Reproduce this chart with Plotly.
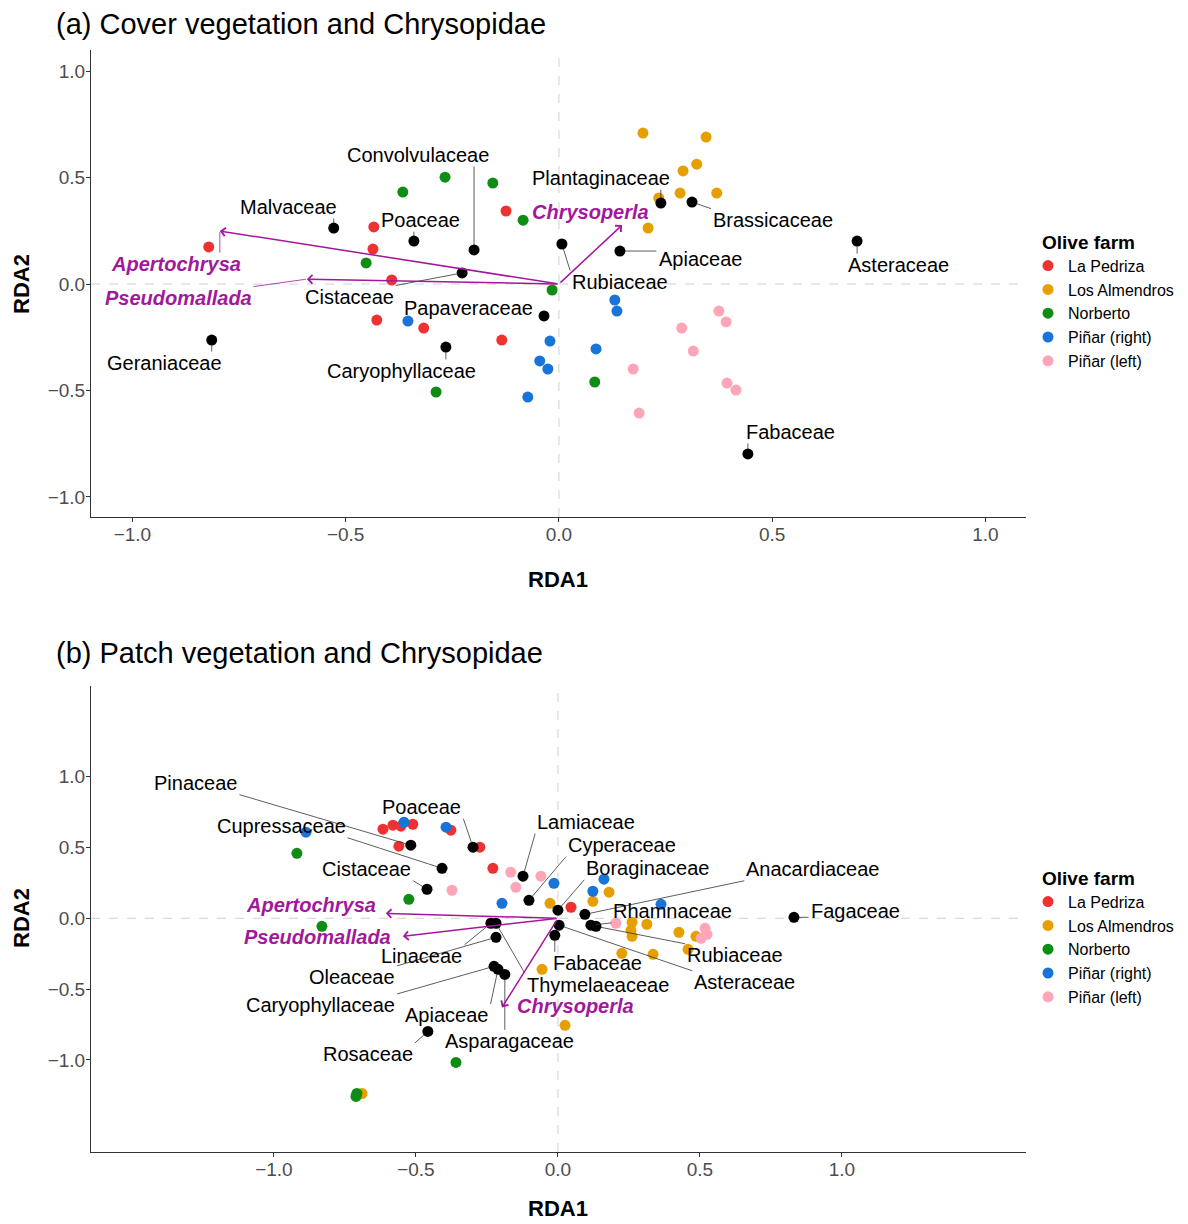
import math
import plotly.graph_objects as go

FONT = "Liberation Sans, Arial, sans-serif"
PURPLE = "#A2189C"

farms = ["La Pedriza", "Los Almendros", "Norberto", "Piñar (right)", "Piñar (left)"]
farm_colors = ["#EE3131", "#E69F00", "#0F8C14", "#1874D6", "#FFA5B8"]

# ---------------- Panel (a): cover vegetation ----------------
a_pedriza_x = [-0.821, -0.434, -0.436, -0.392, -0.427, -0.317, -0.124, -0.134]
a_pedriza_y = [0.174, 0.268, 0.164, 0.019, -0.169, -0.207, 0.343, -0.263]
a_almendros_x = [0.197, 0.345, 0.323, 0.291, 0.234, 0.284, 0.370, 0.209]
a_almendros_y = [0.709, 0.690, 0.563, 0.531, 0.404, 0.427, 0.427, 0.263]
a_norberto_x = [-0.267, -0.155, -0.366, -0.084, -0.452, -0.016, -0.288, 0.084]
a_norberto_y = [0.502, 0.474, 0.432, 0.300, 0.099, -0.028, -0.507, -0.460]
a_pinar_r_x = [-0.354, -0.021, -0.045, -0.026, -0.073, 0.131, 0.136, 0.087]
a_pinar_r_y = [-0.174, -0.268, -0.361, -0.399, -0.531, -0.075, -0.127, -0.305]
a_pinar_l_x = [0.375, 0.392, 0.288, 0.315, 0.174, 0.394, 0.415, 0.188]
a_pinar_l_y = [-0.127, -0.178, -0.207, -0.315, -0.399, -0.465, -0.498, -0.606]

a_family = ["Malvaceae", "Poaceae", "Convolvulaceae", "Cistaceae", "Papaveraceae",
            "Caryophyllaceae", "Geraniaceae", "Rubiaceae", "Plantaginaceae",
            "Brassicaceae", "Apiaceae", "Asteraceae", "Fabaceae"]
a_family_x = [-0.528, -0.340, -0.199, -0.227, -0.035, -0.265, -0.814, 0.007, 0.239,
              0.312, 0.143, 0.699, 0.443]
a_family_y = [0.263, 0.202, 0.160, 0.052, -0.150, -0.296, -0.263, 0.188, 0.380,
              0.385, 0.155, 0.202, -0.798]

a_species = ["Apertochrysa", "Pseudomallada", "Chrysoperla"]
a_species_x = [-0.795, -0.591, 0.148]
a_species_y = [0.249, 0.023, 0.277]

# ---------------- Panel (b): patch vegetation ----------------
b_pedriza_x = [-0.616, -0.581, -0.553, -0.511, -0.560, -0.377, -0.275, -0.229, 0.046]
b_pedriza_y = [0.629, 0.657, 0.650, 0.664, 0.509, 0.622, 0.502, 0.353, 0.078]
b_almendros_x = [-0.028, 0.123, 0.180, 0.261, 0.257, 0.261, 0.313, 0.426, 0.486,
                 0.458, 0.225, 0.335, -0.056, 0.025, -0.690]
b_almendros_y = [0.106, 0.120, 0.184, -0.028, -0.085, -0.127, -0.042, -0.099, -0.127,
                 -0.219, -0.247, -0.254, -0.360, -0.756, -1.237]
b_norberto_x = [-0.919, -0.525, -0.831, -0.359, -0.708, -0.711]
b_norberto_y = [0.459, 0.134, -0.057, -1.018, -1.237, -1.258]
b_pinar_r_x = [-0.542, -0.394, -0.887, -0.197, -0.014, 0.162, 0.123, 0.363]
b_pinar_r_y = [0.678, 0.643, 0.608, 0.106, 0.247, 0.276, 0.191, 0.099]
b_pinar_l_x = [-0.166, -0.148, -0.373, -0.060, 0.204, 0.518, 0.525, 0.504]
b_pinar_l_y = [0.325, 0.219, 0.198, 0.297, -0.035, -0.071, -0.113, -0.141]

b_family = ["Pinaceae", "Poaceae", "Cupressaceae", "Cistaceae", "Lamiaceae",
            "Cyperaceae", "Boraginaceae", "Anacardiaceae", "Rhamnaceae", "Rubiaceae",
            "Fagaceae", "Asteraceae", "Fabaceae", "Linaceae", "Thymelaeaceae",
            "Oleaceae", "Caryophyllaceae", "Apiaceae", "Asparagaceae", "Rosaceae"]
b_family_x = [-0.518, -0.299, -0.408, -0.461, -0.123, -0.102, 0.000, 0.095, 0.116,
              0.134, 0.831, 0.004, -0.011, -0.236, -0.218, -0.218, -0.225, -0.211,
              -0.187, -0.458]
b_family_y = [0.516, 0.502, 0.353, 0.205, 0.297, 0.127, 0.057, 0.028, -0.049, -0.057,
              0.007, -0.049, -0.120, -0.035, -0.035, -0.134, -0.339, -0.360, -0.396,
              -0.799]

b_species = ["Apertochrysa", "Pseudomallada", "Chrysoperla"]
b_species_x = [-0.606, -0.546, -0.197]
b_species_y = [0.035, -0.127, -0.629]

# ---------------- label placement (repelled text positions, data units) ----------------
a_family_lab = {
    "Malvaceae": (-0.635, 0.362), "Poaceae": (-0.324, 0.300),
    "Convolvulaceae": (-0.331, 0.606), "Cistaceae": (-0.492, -0.061),
    "Papaveraceae": (-0.211, -0.113), "Caryophyllaceae": (-0.368, -0.408),
    "Geraniaceae": (-0.924, -0.371), "Rubiaceae": (0.143, 0.009),
    "Plantaginaceae": (0.098, 0.498), "Brassicaceae": (0.502, 0.300),
    "Apiaceae": (0.331, 0.117), "Asteraceae": (0.797, 0.089),
    "Fabaceae": (0.542, -0.695),
}
a_species_lab = {"Apertochrysa": (-0.898, 0.094), "Pseudomallada": (-0.893, -0.066),
                 "Chrysoperla": (0.075, 0.338)}
b_family_lab = {
    "Pinaceae": (-1.275, 0.954), "Poaceae": (-0.479, 0.784),
    "Cupressaceae": (-0.975, 0.650), "Cistaceae": (-0.673, 0.346),
    "Lamiaceae": (0.099, 0.678), "Cyperaceae": (0.225, 0.516),
    "Boraginaceae": (0.317, 0.353), "Anacardiaceae": (0.898, 0.346),
    "Rhamnaceae": (0.405, 0.049), "Rubiaceae": (0.623, -0.261),
    "Fagaceae": (1.046, 0.049), "Asteraceae": (0.658, -0.452),
    "Fabaceae": (0.141, -0.318), "Thymelaeaceae": (0.141, -0.470),
    "Linaceae": (-0.479, -0.269), "Oleaceae": (-0.725, -0.417),
    "Caryophyllaceae": (-0.835, -0.615), "Apiaceae": (-0.391, -0.686),
    "Asparagaceae": (-0.169, -0.869), "Rosaceae": (-0.669, -0.961),
}
b_species_lab = {"Apertochrysa": (-0.870, 0.092), "Pseudomallada": (-0.845, -0.134),
                 "Chrysoperla": (0.063, -0.622)}
no_connector = {("b", "Apertochrysa"), ("b", "Pseudomallada"), ("b", "Chrysoperla")}

# ---------------- geometry helpers ----------------
W, H = 1188, 1224
X_PX = (91, 1026)
A_RX, A_RY = [-1.097, 1.095], [-1.094, 1.099]
B_RX, B_RY = [-1.644, 1.648], [-1.65, 1.64]
A_PY = (50, 517)
B_PY = (686, 1152)

REG = dict(zip("abcdefghijklmnopqrstuvwxyz",
               [556, 556, 500, 556, 556, 278, 556, 556, 222, 222, 500, 222, 833, 556,
                556, 556, 556, 333, 500, 278, 556, 500, 722, 500, 500, 500]))
REG.update(dict(A=667, B=667, C=722, F=611, G=778, L=556, O=778, P=667, R=722, T=611))
BOLD = dict(zip("abcdefghijklmnopqrstuvwxyz",
                [556, 611, 556, 611, 556, 333, 611, 611, 278, 278, 556, 278, 889, 611,
                 611, 611, 611, 389, 556, 333, 611, 556, 778, 556, 556, 500]))
BOLD.update(dict(A=722, C=722, P=667))


def text_width(s, size, bold=False):
    tab = BOLD if bold else REG
    return sum(tab.get(c, 556) for c in s) * size / 1000.0


def connector(pt, lab, wpx, hpx, sx, sy, pad=2.0, prad=5.0, minlen=4.0):
    """Segment from the label box's nearest edge point to the data point (ggrepel-like)."""
    dx = (pt[0] - lab[0]) * sx
    dy = (pt[1] - lab[1]) * sy
    hw, hh = wpx / 2 + pad, hpx / 2 + pad
    cx = max(-hw, min(hw, dx))
    cy = max(-hh, min(hh, dy))
    L = math.hypot(dx - cx, dy - cy)
    if L - prad < minlen:
        return None
    ex = dx - (dx - cx) * prad / L
    ey = dy - (dy - cy) * prad / L
    return (lab[0] + cx / sx, lab[1] + cy / sy, lab[0] + ex / sx, lab[1] + ey / sy)


fig = go.Figure()

panels = {
    "a": dict(xa="x", ya="y", legend="legend", rx=A_RX, ry=A_RY, py=A_PY,
              sites=[(a_pedriza_x, a_pedriza_y), (a_almendros_x, a_almendros_y),
                     (a_norberto_x, a_norberto_y), (a_pinar_r_x, a_pinar_r_y),
                     (a_pinar_l_x, a_pinar_l_y)],
              fam=(a_family, a_family_x, a_family_y, a_family_lab),
              sp=(a_species, a_species_x, a_species_y, a_species_lab)),
    "b": dict(xa="x2", ya="y2", legend="legend2", rx=B_RX, ry=B_RY, py=B_PY,
              sites=[(b_pedriza_x, b_pedriza_y), (b_almendros_x, b_almendros_y),
                     (b_norberto_x, b_norberto_y), (b_pinar_r_x, b_pinar_r_y),
                     (b_pinar_l_x, b_pinar_l_y)],
              fam=(b_family, b_family_x, b_family_y, b_family_lab),
              sp=(b_species, b_species_x, b_species_y, b_species_lab)),
}

LAB_SIZE = 20
annotations = []
shapes = []
for key, p in panels.items():
    sx = (X_PX[1] - X_PX[0]) / (p["rx"][1] - p["rx"][0])
    sy = (p["py"][1] - p["py"][0]) / (p["ry"][1] - p["ry"][0])
    for farm, col, (fx_, fy_) in zip(farms, farm_colors, p["sites"]):
        fig.add_trace(go.Scatter(x=fx_, y=fy_, mode="markers", name=farm,
                                 marker=dict(color=col, size=11),
                                 xaxis=p["xa"], yaxis=p["ya"], legend=p["legend"]))
    names, fx, fy, lab = p["fam"]
    fig.add_trace(go.Scatter(x=fx, y=fy, mode="markers", showlegend=False,
                             marker=dict(color="black", size=11),
                             xaxis=p["xa"], yaxis=p["ya"]))
    for n, x, y in zip(names, fx, fy):
        lx, ly = lab[n]
        annotations.append(dict(x=lx, y=ly, xref=p["xa"], yref=p["ya"], text=n,
                                showarrow=False,
                                font=dict(family=FONT, size=LAB_SIZE, color="black")))
        seg = connector((x, y), (lx, ly), text_width(n, LAB_SIZE), LAB_SIZE * 0.95, sx, sy)
        if seg:
            shapes.append(dict(type="line", xref=p["xa"], yref=p["ya"],
                               x0=seg[0], y0=seg[1], x1=seg[2], y1=seg[3],
                               line=dict(color="#333333", width=0.8)))
    # species arrows
    snames, sx_, sy_, slab = p["sp"]
    for n, x, y in zip(snames, sx_, sy_):
        annotations.append(dict(
            x=x, y=y, ax=0, ay=0, xref=p["xa"], yref=p["ya"],
            axref=p["xa"], ayref=p["ya"], text="", showarrow=True, arrowhead=4,
            arrowsize=1.1, arrowwidth=1.5, arrowcolor=PURPLE))
        lx, ly = slab[n]
        annotations.append(dict(x=lx, y=ly, xref=p["xa"], yref=p["ya"],
                                text=f"<b><i>{n}</i></b>", showarrow=False,
                                font=dict(family=FONT, size=LAB_SIZE, color=PURPLE)))
        if (key, n) not in no_connector:
            seg = connector((x, y), (lx, ly), text_width(n, LAB_SIZE, True),
                            LAB_SIZE * 0.95, sx, sy, prad=1.0)
            if seg:
                shapes.append(dict(type="line", xref=p["xa"], yref=p["ya"],
                                   x0=seg[0], y0=seg[1], x1=seg[2], y1=seg[3],
                                   line=dict(color=PURPLE, width=0.8)))


def px(x, y):
    return x / W, 1 - y / H


for txt, (x, y) in [("(a) Cover vegetation and Chrysopidae", px(54, 24)),
                    ("(b) Patch vegetation and Chrysopidae", px(54, 653))]:
    annotations.append(dict(x=x, y=y, xref="paper", yref="paper", text=txt,
                            xanchor="left", yanchor="middle", showarrow=False,
                            font=dict(family=FONT, size=29, color="black")))
for txt, (x, y), ang in [("RDA1", px(558, 579), 0), ("RDA1", px(558, 1208), 0),
                         ("RDA2", px(21, 284), -90), ("RDA2", px(21, 918), -90)]:
    annotations.append(dict(x=x, y=y, xref="paper", yref="paper", text=f"<b>{txt}</b>",
                            xanchor="center", yanchor="middle", showarrow=False,
                            textangle=ang, font=dict(family=FONT, size=22, color="black")))

axis_common = dict(showline=True, linecolor="#333333", linewidth=1, ticks="outside",
                   ticklen=4, tickcolor="#333333", showgrid=False, zeroline=False,
                   tickvals=[-1, -0.5, 0, 0.5, 1], tickformat=".1f",
                   tickfont=dict(family=FONT, size=19, color="#4D4D4D"))

xdom = [X_PX[0] / W, X_PX[1] / W]
legend_common = dict(xanchor="left", yanchor="top", indentation=-12,
                     title=dict(text="<b>Olive farm</b>", font=dict(size=19, family=FONT)),
                     font=dict(size=16, family=FONT, color="black"),
                     bgcolor="rgba(0,0,0,0)", tracegroupgap=0)
fig.update_layout(
    width=W, height=H, margin=dict(l=0, r=0, t=0, b=0),
    paper_bgcolor="white", plot_bgcolor="white",
    font=dict(family=FONT),
    xaxis=dict(domain=xdom, range=A_RX, anchor="y", ticklabelstandoff=-4, **axis_common),
    yaxis=dict(domain=[1 - A_PY[1] / H, 1 - A_PY[0] / H], range=A_RY, anchor="x",
               ticklabelstandoff=-3, **axis_common),
    xaxis2=dict(domain=xdom, range=B_RX, anchor="y2", ticklabelstandoff=-4, **axis_common),
    yaxis2=dict(domain=[1 - B_PY[1] / H, 1 - B_PY[0] / H], range=B_RY, anchor="x2",
                ticklabelstandoff=-3, **axis_common),
    legend=dict(x=1040 / W, y=1 - 224 / H, **legend_common),
    legend2=dict(x=1040 / W, y=1 - 860 / H, **legend_common),
    annotations=annotations,
    shapes=shapes,
    showlegend=True,
)

# dashed zero reference lines
for xa, ya in [("x", "y"), ("x2", "y2")]:
    fig.add_shape(type="line", xref=xa, yref=f"{ya} domain", x0=0, x1=0, y0=0, y1=1,
                  line=dict(color="#D0D0D0", width=1, dash="dash"), layer="below")
    fig.add_shape(type="line", xref=f"{xa} domain", yref=ya, x0=0, x1=1, y0=0, y1=0,
                  line=dict(color="#D0D0D0", width=1, dash="dash"), layer="below")

fig.write_html("out.html", config={"displayModeBar": False},
               post_script="document.body.style.margin='0';")
